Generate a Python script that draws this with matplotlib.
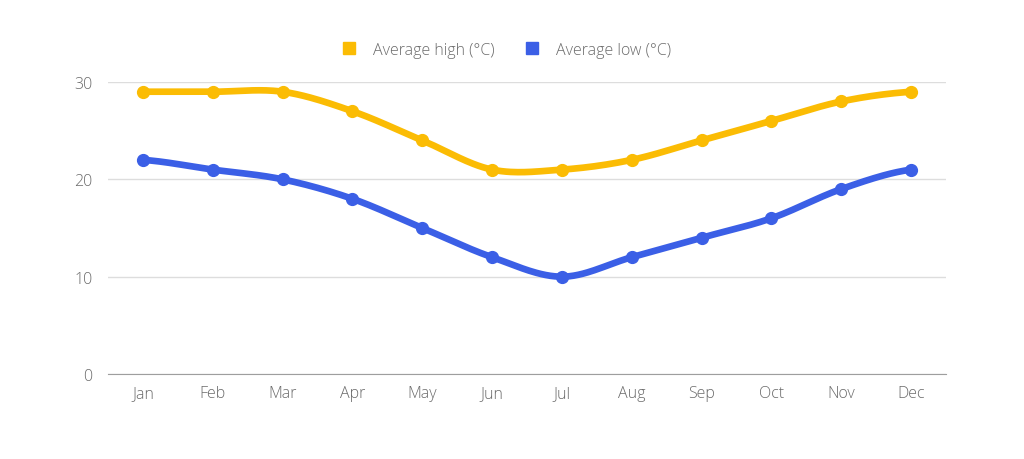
import numpy as np
import matplotlib.pyplot as plt

months = ['Jan', 'Feb', 'Mar', 'Apr', 'May', 'Jun', 'Jul', 'Aug', 'Sep', 'Oct', 'Nov', 'Dec']
avg_high = [29, 29, 29, 27, 24, 21, 21, 22, 24, 26, 28, 29]
avg_low = [22, 21, 20, 18, 15, 12, 10, 12, 14, 16, 19, 21]
yticks = [0, 10, 20, 30]

plt.rcParams['font.family'] = ['Open Sans', 'DejaVu Sans']

HIGH_COL = '#fbbc04'
LOW_COL = '#3b5fe6'
TXT = '#6b6b6b'


def smooth(y, n=30, k=0.5):
    # cardinal spline through the points, like a "function" curve
    y = np.asarray(y, dtype=float)
    x = np.arange(len(y), dtype=float)
    xs, ys = [], []
    for i in range(len(y) - 1):
        y0 = y[i - 1] if i > 0 else y[i]
        y3 = y[i + 2] if i + 2 < len(y) else y[i + 1]
        m1 = k * (y[i + 1] - y0)
        m2 = k * (y3 - y[i])
        t = np.linspace(0, 1, n, endpoint=False)
        h00 = 2 * t**3 - 3 * t**2 + 1
        h10 = t**3 - 2 * t**2 + t
        h01 = -2 * t**3 + 3 * t**2
        h11 = t**3 - t**2
        xs.append(x[i] + t)
        ys.append(h00 * y[i] + h10 * m1 + h01 * y[i + 1] + h11 * m2)
    xs.append([x[-1]])
    ys.append([y[-1]])
    return np.concatenate(xs), np.concatenate(ys)


fig = plt.figure(figsize=(10.24, 4.6), dpi=100)
ax = fig.add_axes([108 / 1024, 1 - 375 / 460, (946 - 108) / 1024, (375 - 83) / 460])

x = np.arange(len(months))
for vals, col, lab in [(avg_high, HIGH_COL, 'Average high (°C)'), (avg_low, LOW_COL, 'Average low (°C)')]:
    sx, sy = smooth(vals)
    ax.plot(sx, sy, color=col, lw=4.8, solid_capstyle='round', zorder=3)
    ax.plot(x, vals, 'o', color=col, ms=8.5, zorder=4)
    ax.plot([], [], 's', color=col, ms=9, label=lab)

ax.set_xlim(-0.5, 11.5)
ax.set_ylim(0, 30)
ax.set_xticks(x)
ax.set_xticklabels(months)
ax.set_yticks(yticks)
ax.grid(axis='y', color='#dddddd', lw=1)
ax.set_axisbelow(True)
for s in ['top', 'right', 'left']:
    ax.spines[s].set_visible(False)
ax.spines['bottom'].set_color('#9e9e9e')
ax.tick_params(length=0, colors=TXT, labelsize=11.5, pad=8)
ax.tick_params(axis='y', pad=11)
for lbl in ax.get_xticklabels() + ax.get_yticklabels():
    lbl.set_fontweight('light')

leg = fig.legend(loc='center', bbox_to_anchor=(0.495, 1 - 51 / 460), ncol=2, frameon=False,
                 fontsize=11.5, handlelength=0.8, handletextpad=1.1, columnspacing=2.0)
for t in leg.get_texts():
    t.set_color(TXT)
    t.set_fontweight('light')

fig.savefig('out.png', dpi=100)
